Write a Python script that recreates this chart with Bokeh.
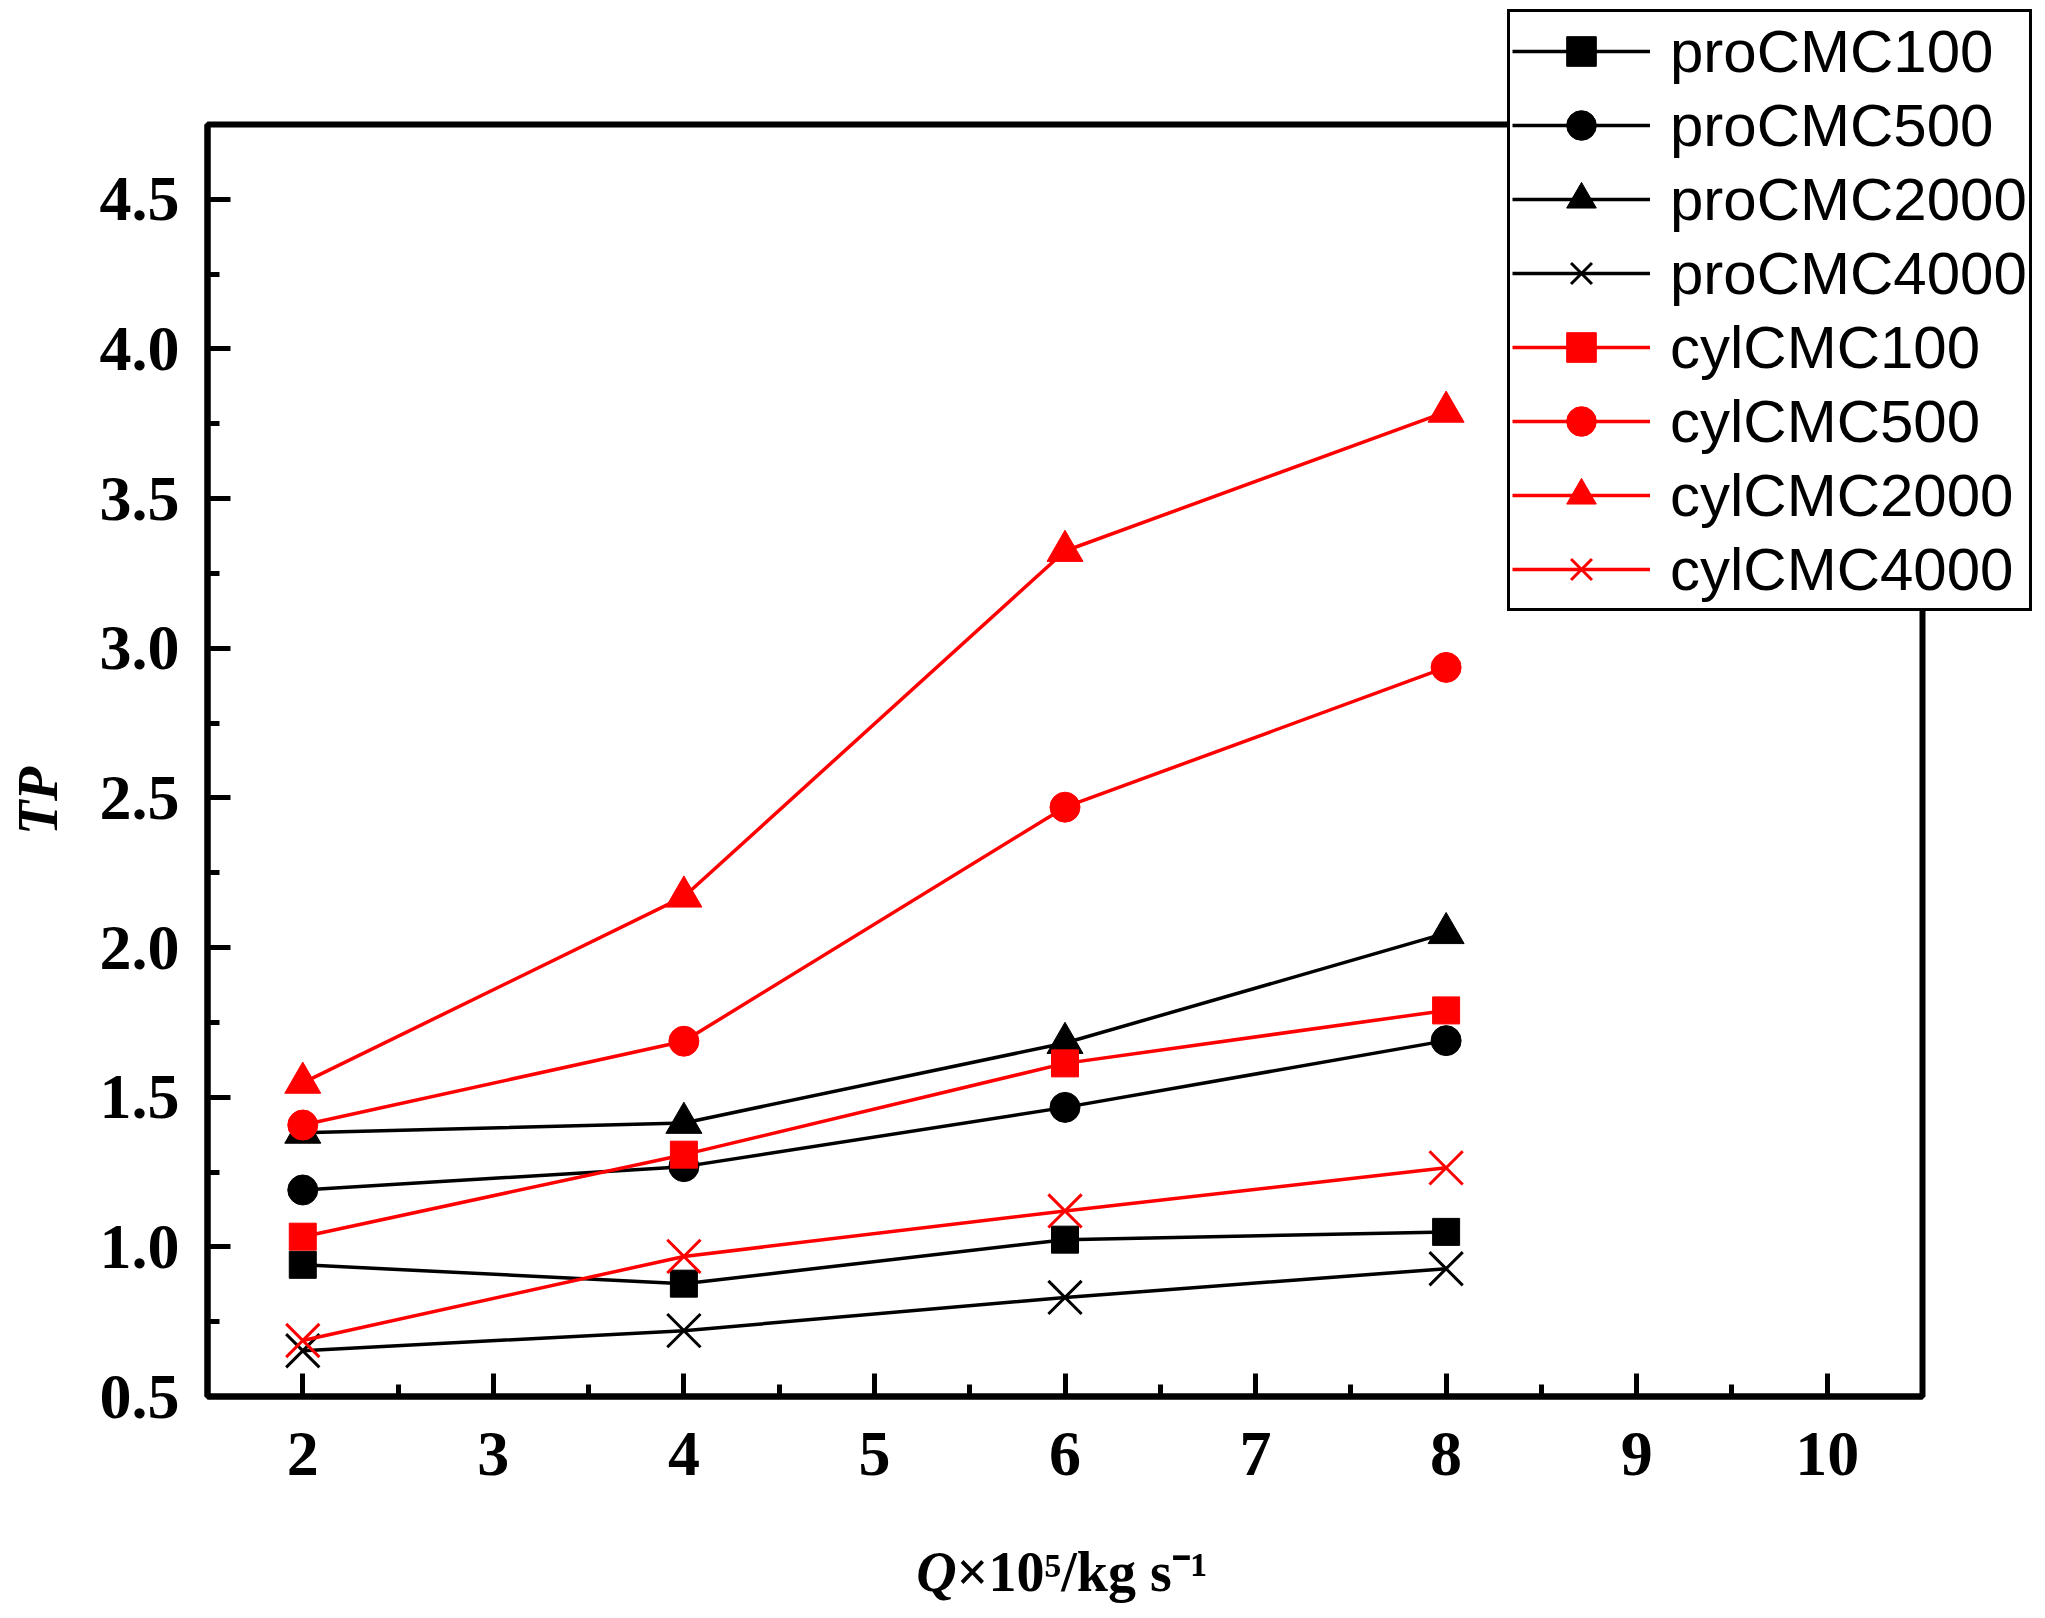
import math
from bokeh.plotting import figure
from bokeh.models import (SingleIntervalTicker, Range1d, Legend, LegendItem, Label,
                          NumeralTickFormatter, BoxAnnotation)
from bokeh.embed import file_html
from bokeh.resources import INLINE

# ---- data ----
q_values = [2, 4, 6, 8]
proCMC100 = [0.940, 0.877, 1.024, 1.050]
proCMC500 = [1.190, 1.268, 1.466, 1.689]
proCMC2000 = [1.381, 1.414, 1.681, 2.048]
proCMC4000 = [0.653, 0.720, 0.831, 0.927]
cylCMC100 = [1.034, 1.308, 1.613, 1.790]
cylCMC500 = [1.407, 1.687, 2.469, 2.936]
cylCMC2000 = [1.548, 2.170, 3.325, 3.790]
cylCMC4000 = [0.687, 0.968, 1.120, 1.264]

series_names = ["proCMC100", "proCMC500", "proCMC2000", "proCMC4000",
                "cylCMC100", "cylCMC500", "cylCMC2000", "cylCMC4000"]
series_values = [proCMC100, proCMC500, proCMC2000, proCMC4000,
                 cylCMC100, cylCMC500, cylCMC2000, cylCMC4000]
series_markers = ["square", "circle", "triangle", "x"] * 2
series_colors = ["black"] * 4 + ["#FF0000"] * 4

x_lim = (1.5, 10.5)
y_lim = (0.5, 4.75)
x_label_q = "Q"
x_label_rest = "\u00d710\u2075/kg s\u207b\u00b9"
y_label = "TP"

# ---- layout (pixels) ----
W, H = 2037, 1610
box_l, box_r, box_t, box_b = 207, 1922, 124, 1396
sx = (box_r - box_l) / (x_lim[1] - x_lim[0])
sy = (box_b - box_t) / (y_lim[1] - y_lim[0])
x0 = x_lim[0] - box_l / sx
y0 = y_lim[0] - (H - box_b) / sy

marker_size = {"square": 27, "circle": 30, "triangle": 36, "x": 47}
marker_lw = {"square": 1, "circle": 1, "triangle": 1, "x": 3}

p = figure(width=W, height=H, output_backend="svg", toolbar_location=None,
           title=None,
           x_range=Range1d(x0, x0 + W / sx), y_range=Range1d(y0, y0 + H / sy),
           min_border_left=0, min_border_right=0,
           min_border_top=0, min_border_bottom=0)
p.xgrid.visible = False
p.ygrid.visible = False
p.background_fill_color = "white"
p.border_fill_color = "white"
p.outline_line_color = None

p.xaxis.ticker = SingleIntervalTicker(interval=1, num_minor_ticks=2)
p.yaxis.ticker = SingleIntervalTicker(interval=0.5, num_minor_ticks=2)
p.xaxis.formatter = NumeralTickFormatter(format="0")
p.yaxis.formatter = NumeralTickFormatter(format="0.0")
p.xaxis.fixed_location = y_lim[0]
p.yaxis.fixed_location = x_lim[0]
p.xaxis.bounds = x_lim
p.yaxis.bounds = y_lim

for ax in (p.xaxis[0], p.yaxis[0]):
    ax.axis_line_width = 6
    ax.axis_line_color = "black"
    ax.major_tick_in = 23
    ax.major_tick_out = 0
    ax.minor_tick_in = 12
    ax.minor_tick_out = 0
    ax.major_tick_line_width = 5
    ax.minor_tick_line_width = 5
    ax.major_tick_line_color = "black"
    ax.minor_tick_line_color = "black"
    ax.major_label_text_font = "Liberation Serif"
    ax.major_label_text_font_style = "bold"
    ax.major_label_text_font_size = "64px"
    ax.major_label_text_color = "black"
p.xaxis.major_label_standoff = 36
p.yaxis.major_label_standoff = 28

items = []
for name, ys, mk, col in zip(series_names, series_values, series_markers, series_colors):
    r1 = p.line(q_values, ys, line_color=col, line_width=3.5)
    r2 = p.scatter(q_values, ys, marker=mk, size=marker_size[mk],
                   fill_color=col, line_color=col, line_width=marker_lw[mk])
    items.append(LegendItem(label=name, renderers=[r1, r2]))

# plot box
p.add_layout(BoxAnnotation(left=x_lim[0], right=x_lim[1], bottom=y_lim[0], top=y_lim[1],
                           fill_alpha=0, fill_color=None, line_color="black",
                           line_width=6, line_alpha=1))

legend = Legend(items=items, location=(1507, H - 611))
legend.border_line_color = "black"
legend.border_line_width = 3
legend.border_line_alpha = 1
legend.background_fill_color = "white"
legend.background_fill_alpha = 1
legend.padding = 2
legend.spacing = 0
legend.margin = 0
legend.glyph_width = 138
legend.glyph_height = 74
legend.label_height = 74
legend.label_standoff = 20
legend.label_text_font = "Liberation Sans"
legend.label_text_font_size = "60px"
legend.label_text_color = "black"
legend.label_text_baseline = "middle"
p.add_layout(legend)

# axis titles as text labels
p.add_layout(Label(x=5.431, y=-0.088, text=x_label_q, text_align="right",
                   text_baseline="alphabetic", text_font="Liberation Serif",
                   text_font_style="bold italic", text_font_size="56px",
                   text_color="black"))
p.add_layout(Label(x=5.431, y=-0.088, text=x_label_rest, text_align="left",
                   text_baseline="alphabetic", text_font="Liberation Serif",
                   text_font_style="bold", text_font_size="56px",
                   text_color="black"))
p.add_layout(Label(x=0.613, y=2.49, text=y_label, text_align="center",
                   text_baseline="alphabetic", angle=math.pi / 2,
                   text_font="Liberation Serif", text_font_style="bold italic",
                   text_font_size="56px", text_color="black"))

open("out.html", "w").write(file_html(p, INLINE))
